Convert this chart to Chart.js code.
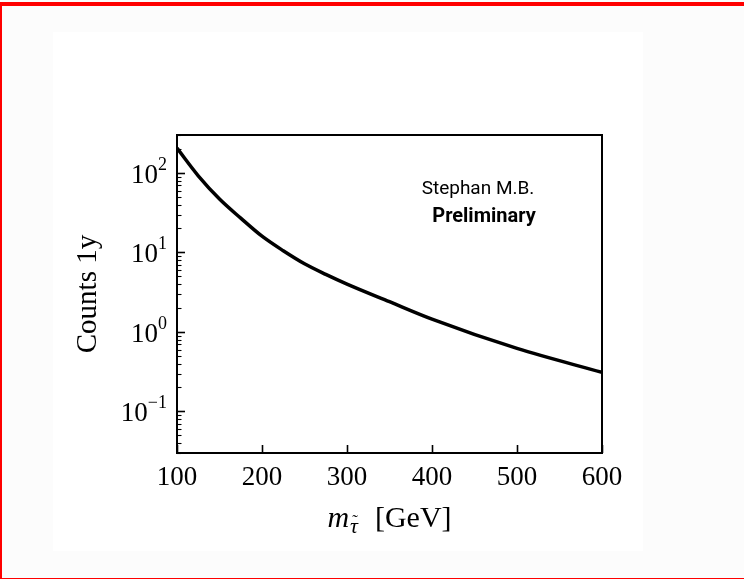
<!DOCTYPE html>
<html>
<head>
<meta charset="utf-8">
<script src="https://cdn.jsdelivr.net/npm/chart.js@4.4.1/dist/chart.umd.min.js"></script>
<style>
  html, body { margin: 0; padding: 0; background: #fcfcfc; width: 744px; height: 579px; overflow: hidden; }
  #frame { position: absolute; left: 0; top: 2px; width: 800px; height: 572px; border: 2px solid #ff0000; border-top-width: 4px; box-sizing: content-box; }
  #panel { position: absolute; left: 53px; top: 32px; width: 590px; height: 519px; background: #ffffff; }
</style>
</head>
<body>
<div id="frame"></div>
<div id="panel"><canvas id="chart"></canvas></div>
<script>
// data
const massGeV = [100, 125, 150, 175, 200, 225, 250, 275, 300, 350, 400, 500, 600];
const counts1y = [205, 92, 47, 27, 16, 10.5, 7.2, 5.3, 4.0, 2.4, 1.45, 0.62, 0.31];

// axis ticks
const xTicks = [100, 200, 300, 400, 500, 600];
const yMajor = [0.1, 1, 10, 100];
const yExp = ['\u22121', '0', '1', '2'];
const yMin = 0.03, yMax = 300;

const serif = '"Liberation Serif", "DejaVu Serif", serif';
const sans = 'Roboto, "Liberation Sans", sans-serif';

// ticks, frame, labels and note drawn by hand (inward ticks like matplotlib)
const axesPlugin = {
    id: 'axesPlugin',
    afterDraw(chart) {
        const ctx = chart.ctx;
        const area = chart.chartArea;
        const xs = chart.scales.x;
        const ys = chart.scales.y;
        ctx.save();
        ctx.strokeStyle = '#000';
        ctx.fillStyle = '#000';

        // frame
        ctx.lineWidth = 2;
        ctx.strokeRect(area.left, area.top, area.right - area.left, area.bottom - area.top);

        // x ticks
        ctx.lineWidth = 1.6;
        xTicks.forEach(v => {
            const px = Math.round(xs.getPixelForValue(v)) + 0.5;
            ctx.beginPath();
            ctx.moveTo(px, area.bottom);
            ctx.lineTo(px, area.bottom - 8);
            ctx.stroke();
        });

        // y ticks, major + minor
        yMajor.forEach(v => {
            const py = Math.round(ys.getPixelForValue(v)) + 0.5;
            ctx.lineWidth = 1.6;
            ctx.beginPath();
            ctx.moveTo(area.left, py);
            ctx.lineTo(area.left + 8, py);
            ctx.stroke();
        });
        [0.01, 0.1, 1, 10, 100].forEach(dec => {
            for (let k = 2; k <= 9; k++) {
                const v = dec * k;
                if (v < yMin || v > yMax) continue;
                const py = Math.round(ys.getPixelForValue(v)) + 0.5;
                ctx.lineWidth = 1.1;
                ctx.beginPath();
                ctx.moveTo(area.left, py);
                ctx.lineTo(area.left + 4.5, py);
                ctx.stroke();
            }
        });

        // x tick labels
        ctx.font = '27px ' + serif;
        ctx.textAlign = 'center';
        ctx.textBaseline = 'alphabetic';
        xTicks.forEach(v => {
            ctx.fillText(String(v), xs.getPixelForValue(v), area.bottom + 32);
        });

        // y tick labels 10^n
        yMajor.forEach((v, i) => {
            const py = ys.getPixelForValue(v);
            ctx.font = '18px ' + serif;
            const ew = ctx.measureText(yExp[i]).width;
            const right = area.left - 10;
            ctx.textAlign = 'left';
            ctx.fillText(yExp[i], right - ew, py - 3);
            ctx.font = '27px ' + serif;
            ctx.textAlign = 'right';
            ctx.fillText('10', right - ew, py + 10);
        });

        // y title
        ctx.save();
        ctx.translate(area.left - 89, (area.top + area.bottom) / 2);
        ctx.rotate(-Math.PI / 2);
        ctx.font = '29px ' + serif;
        ctx.textAlign = 'center';
        ctx.textBaseline = 'middle';
        ctx.fillText('Counts 1y', 0, 0);
        ctx.restore();

        // x title: m_{tau~} [GeV]
        const cx = (area.left + area.right) / 2;
        const by = area.bottom + 74;
        ctx.textAlign = 'left';
        ctx.font = 'italic 30px ' + serif;
        const mW = ctx.measureText('m').width;
        ctx.font = 'italic 22px ' + serif;
        const tW = ctx.measureText('\u03c4').width;
        ctx.font = '30px ' + serif;
        const gW = ctx.measureText('[GeV]').width;
        const gap = 18;
        let x0 = cx - (mW + tW + gap + gW) / 2;
        ctx.font = 'italic 30px ' + serif;
        ctx.fillText('m', x0, by);
        ctx.font = 'italic 22px ' + serif;
        ctx.fillText('\u03c4', x0 + mW + 1, by + 6);
        ctx.font = '17px ' + serif;
        ctx.textAlign = 'center';
        ctx.fillText('\u02dc', x0 + mW + 1 + tW / 2 + 1, by - 1);
        ctx.textAlign = 'left';
        ctx.font = '30px ' + serif;
        ctx.fillText('[GeV]', x0 + mW + tW + gap, by);

        // note (canvas sits at page x 53, y 32)
        ctx.textAlign = 'center';
        ctx.font = '19px ' + sans;
        ctx.fillText('Stephan M.B.', 478 - 53, 194 - 32);
        ctx.font = 'bold 20px ' + sans;
        ctx.fillText('Preliminary', 484 - 53, 222 - 32);
        ctx.restore();
    }
};

const chart = new Chart(document.getElementById('chart').getContext('2d'), {
    type: 'line',
    data: {
        datasets: [{
            data: massGeV.map((m, i) => ({ x: m, y: counts1y[i] })),
            borderColor: '#000',
            borderWidth: 3.5,
            pointRadius: 0,
            tension: 0.3,
            cubicInterpolationMode: 'monotone',
            fill: false
        }]
    },
    options: {
        responsive: true,
        maintainAspectRatio: false,
        animation: false,
        layout: { padding: { left: 124, right: 41, top: 103, bottom: 98 } },
        scales: {
            x: { type: 'linear', min: 100, max: 600, display: false },
            y: { type: 'logarithmic', min: yMin, max: yMax, display: false }
        },
        plugins: {
            legend: { display: false },
            tooltip: { enabled: false }
        }
    },
    plugins: [axesPlugin]
});
</script>
</body>
</html>
